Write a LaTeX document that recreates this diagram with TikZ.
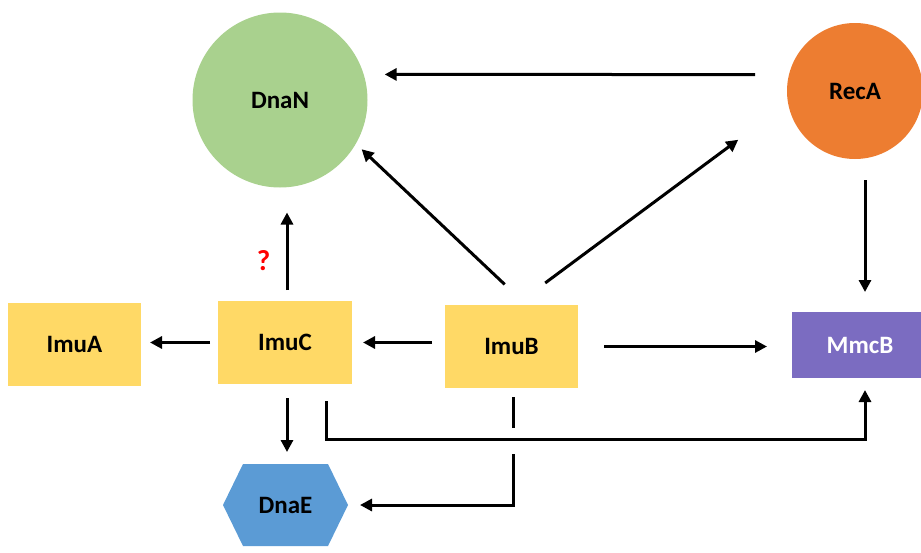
\documentclass[tikz,border=0pt]{standalone}
\usepackage{fontspec}
\setmainfont{Carlito}
\usepackage{xcolor}
\definecolor{dnangreen}{HTML}{A9D18E}
\definecolor{recaorange}{HTML}{ED7D31}
\definecolor{imuyellow}{HTML}{FFD966}
\definecolor{mmcbpurple}{HTML}{7B6CC1}
\definecolor{dnaeblue}{HTML}{5B9BD5}
\usetikzlibrary{arrows.meta,positioning,shapes.symbols}
\tikzset{
	protein/.style = {
			font       = \fontsize{25}{30}\selectfont\bfseries,
			inner sep  = 0pt,
			outer sep  = 0pt,
		},
	imubox/.style = {
			protein, rectangle,
			fill           = imuyellow,
			minimum width  = 133pt,
			minimum height = 83pt,
		},
	link/.style = {
			line width = 3pt,
			-{Triangle[length=12pt,width=12pt]},
		},
	hop/.style = {draw=white, line width=7pt},
}

\begin{document}
\begin{tikzpicture}[x=1pt,y=-1pt]
	\useasboundingbox (0,0) rectangle (921,552);
	% proteins
	\node[protein, circle, fill=dnangreen, minimum size=175pt] (dnan) at (280,100) {DnaN};
	\node[protein, circle, fill=recaorange, minimum size=136pt] (reca) at (855,91) {RecA};
	\node[imubox] (imua) at (74.5,344) {ImuA};
	\node[imubox, minimum width=134pt] (imuc) at (285,342.5) {ImuC};
	\node[imubox] (imub) at (511.5,346.5) {ImuB};
	\node[protein, rectangle, fill=mmcbpurple, text=white, minimum width=136pt, minimum height=66pt] (mmcb) at (860,345) {MmcB};
	\node[protein, signal, signal to=west and east, signal pointer angle=128, fill=dnaeblue, minimum width=125pt, minimum height=82pt] (dnae) at (285.5,505) {DnaE};
	\node[protein, font=\fontsize{29}{34}\selectfont\bfseries, text=red] (unknown) at (263.5,261) {?};
	% interactions
	\draw[link, shorten <=34pt, shorten >=21pt] (reca.166) -- (dnan.17);
	\draw[link, shorten <=30pt, shorten >=8pt] ([xshift=15pt]imub.north) -- (dnan.-30);
	\draw[link, shorten <=37pt, shorten >=62pt] ([xshift=4pt]imub.north) -- (reca.190);
	\draw[link, shorten <=11pt, shorten >=25pt] ([xshift=2pt]imuc.north) -- ([xshift=2pt]imuc.north |- dnan.south);
	\draw[link, shorten <=21pt, shorten >=20pt] ([xshift=10pt]reca.south) -- ([xshift=5pt]mmcb.north);
	\draw[link, shorten <=8pt, shorten >=9pt] (imuc.west) -- (imua.east |- imuc.west);
	\draw[link, shorten <=13pt, shorten >=11pt] (imub.west |- imuc.east) -- (imuc.east);
	\draw[link, shorten <=26pt, shorten >=25pt] (imub.east) -- (mmcb.west |- imub.east);
	\draw[link, shorten <=14pt, shorten >=12pt] ([xshift=2pt]imuc.south) -- ([xshift=2pt]imuc.south |- dnae.north);
	\draw[link, shorten <=9pt, shorten >=12pt] ([xshift=1.5pt]imub.south) |- (dnae.east);
	% gap where the two elbow lines cross
	\draw[hop] ([xshift=1.5pt]imub.south) ++(0,40) -- ++(0,26);
	\draw[link, shorten <=17pt, shorten >=12pt] ([xshift=41pt]imuc.south) -- ++(0,55) -| ([xshift=5pt]mmcb.south);
\end{tikzpicture}
\end{document}
